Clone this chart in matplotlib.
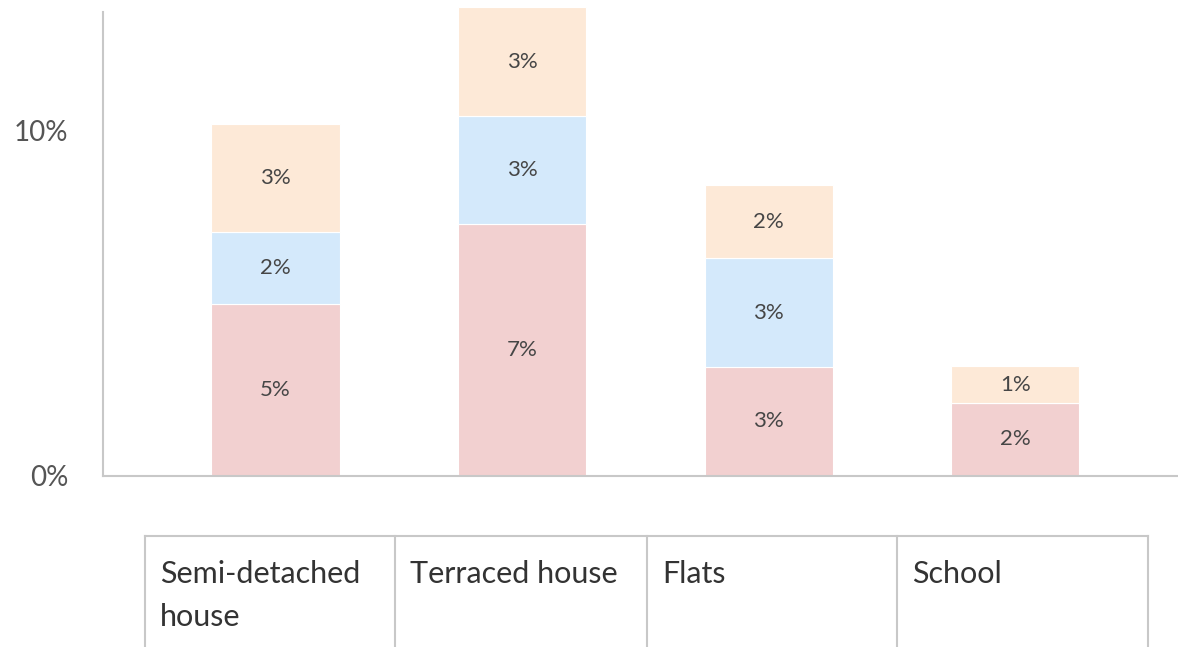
import numpy as np
import matplotlib
matplotlib.use('Agg')
import matplotlib.pyplot as plt
from matplotlib.lines import Line2D

plt.rcParams['font.family'] = ['Lato', 'DejaVu Sans']

categories = ['Semi-detached\nhouse', 'Terraced house', 'Flats', 'School']
pink_vals = [4.98, 7.30, 3.15, 2.10]
blue_vals = [2.08, 3.13, 3.16, 0.0]
peach_vals = [3.15, 3.16, 2.12, 1.07]
yticks = [0, 10]
ytick_labels = ['0%', '10%']

colors = ['#f2d0d0', '#d4e9fb', '#fde9d7']
grey = '#c8c8c8'

fig = plt.figure(figsize=(11.78, 6.47), dpi=100)
ax = fig.add_axes([0.0874, 0.265, 0.9126, 0.7165])

x = np.arange(len(categories))
bottom = np.zeros(len(categories))
for vals, col in zip([pink_vals, blue_vals, peach_vals], colors):
    vals = np.array(vals)
    bars = ax.bar(x, vals, 0.52, bottom=bottom, color=col, clip_on=False,
                  edgecolor='white', linewidth=0.8)
    for xi, b, v in zip(x, bottom, vals):
        if v > 0:
            ax.text(xi, b + v / 2, f'{v:.0f}%', ha='center', va='center',
                    fontsize=16, color='#464646')
    bottom += vals

ax.set_xlim(-0.70, 3.66)
ax.set_ylim(0, 13.45)
ax.set_yticks(yticks)
ax.set_yticklabels(ytick_labels, fontsize=20, color='#555555')
ax.tick_params(axis='y', length=0, pad=25)
ax.set_xticks([])
for s in ['top', 'right']:
    ax.spines[s].set_visible(False)
for s in ['left', 'bottom']:
    ax.spines[s].set_color(grey)
    ax.spines[s].set_linewidth(1.5)

# category table under the chart
W, H = 1178.0, 647.0
col_edges = [145, 395, 647, 897, 1148]
top_y = 1 - 536 / H
fig.add_artist(Line2D([col_edges[0] / W, col_edges[-1] / W], [top_y, top_y],
                      color=grey, lw=1.5))
for xe in col_edges:
    fig.add_artist(Line2D([xe / W, xe / W], [top_y, 0], color=grey, lw=1.5))
for i, name in enumerate(categories):
    fig.text((col_edges[i] + 15) / W, 1 - 560 / H, name, ha='left', va='top',
             fontsize=22, color='#333333', linespacing=1.65)

fig.savefig('out.png', dpi=100)
